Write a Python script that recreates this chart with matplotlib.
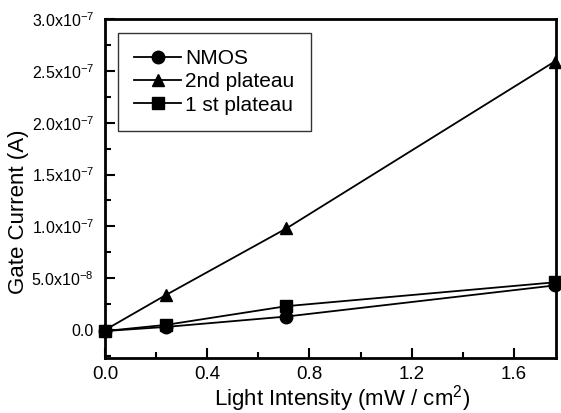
import matplotlib
matplotlib.use("Agg")
import matplotlib.pyplot as plt
from matplotlib.ticker import FuncFormatter, MultipleLocator

plt.rcParams['font.family'] = ['Liberation Sans', 'DejaVu Sans']
plt.rcParams['mathtext.fontset'] = 'custom'
plt.rcParams['mathtext.rm'] = 'Liberation Sans'

x = [0.0, 0.24, 0.71, 1.76]
nmos = [-1e-9, 3e-9, 1.3e-8, 4.3e-8]
plateau2 = [0.0, 3.4e-8, 9.8e-8, 2.59e-7]
plateau1 = [-1e-9, 5e-9, 2.3e-8, 4.6e-8]

fig = plt.figure(figsize=(5.61, 4.13), dpi=100)
ax = fig.add_axes([105/561, 1-358/413, (556-105)/561, (358-19)/413])

kw = dict(color='black', lw=1.3, markersize=9, clip_on=False)
ax.plot(x, nmos, marker='o', label='NMOS', **kw)
ax.plot(x, plateau2, marker='^', label='2nd plateau', **kw)
ax.plot(x, plateau1, marker='s', label='1 st plateau', markersize=8, color='black', lw=1.3, clip_on=False)

ax.set_xlim(0, 1.765)
ax.set_ylim(-2.7e-8, 3.0e-7)
ax.xaxis.set_major_locator(MultipleLocator(0.4))
ax.xaxis.set_minor_locator(MultipleLocator(0.2))
ax.yaxis.set_major_locator(MultipleLocator(5e-8))
ax.yaxis.set_minor_locator(MultipleLocator(2.5e-8))

def yfmt(v, pos):
    if abs(v) < 1e-12:
        return '0.0'
    exp = int(f"{v:.1e}".split('e')[1])
    mant = v / 10**exp
    return f"{mant:.1f}x10$^{{{exp}}}$"

ax.yaxis.set_major_formatter(FuncFormatter(yfmt))
ax.xaxis.set_major_formatter(FuncFormatter(lambda v, p: f"{v:.1f}"))

ax.tick_params(which='both', direction='in', width=1.5)
ax.tick_params(which='major', length=7)
ax.tick_params(which='minor', length=4)
ax.tick_params(axis='x', pad=6, labelsize=13.5)
ax.tick_params(axis='y', pad=8, labelsize=11.5)
for s in ax.spines.values():
    s.set_linewidth(2)

ax.set_xlabel('Light Intensity (mW / cm$^2$)', fontsize=16, labelpad=0)
ax.xaxis.set_label_coords(0.525, -0.073)
ax.set_ylabel('Gate Current (A)', fontsize=16)
ax.yaxis.set_label_coords(-0.168, 0.43)

leg = ax.legend(loc='upper left', bbox_to_anchor=(0.028, 0.96), fontsize=15,
                frameon=True, fancybox=False, edgecolor='black',
                handlelength=2.25, borderpad=0.8, labelspacing=0.2, handletextpad=0.2,
                borderaxespad=0)
leg.get_frame().set_linewidth(1.0)

fig.savefig('out.png', dpi=100)
